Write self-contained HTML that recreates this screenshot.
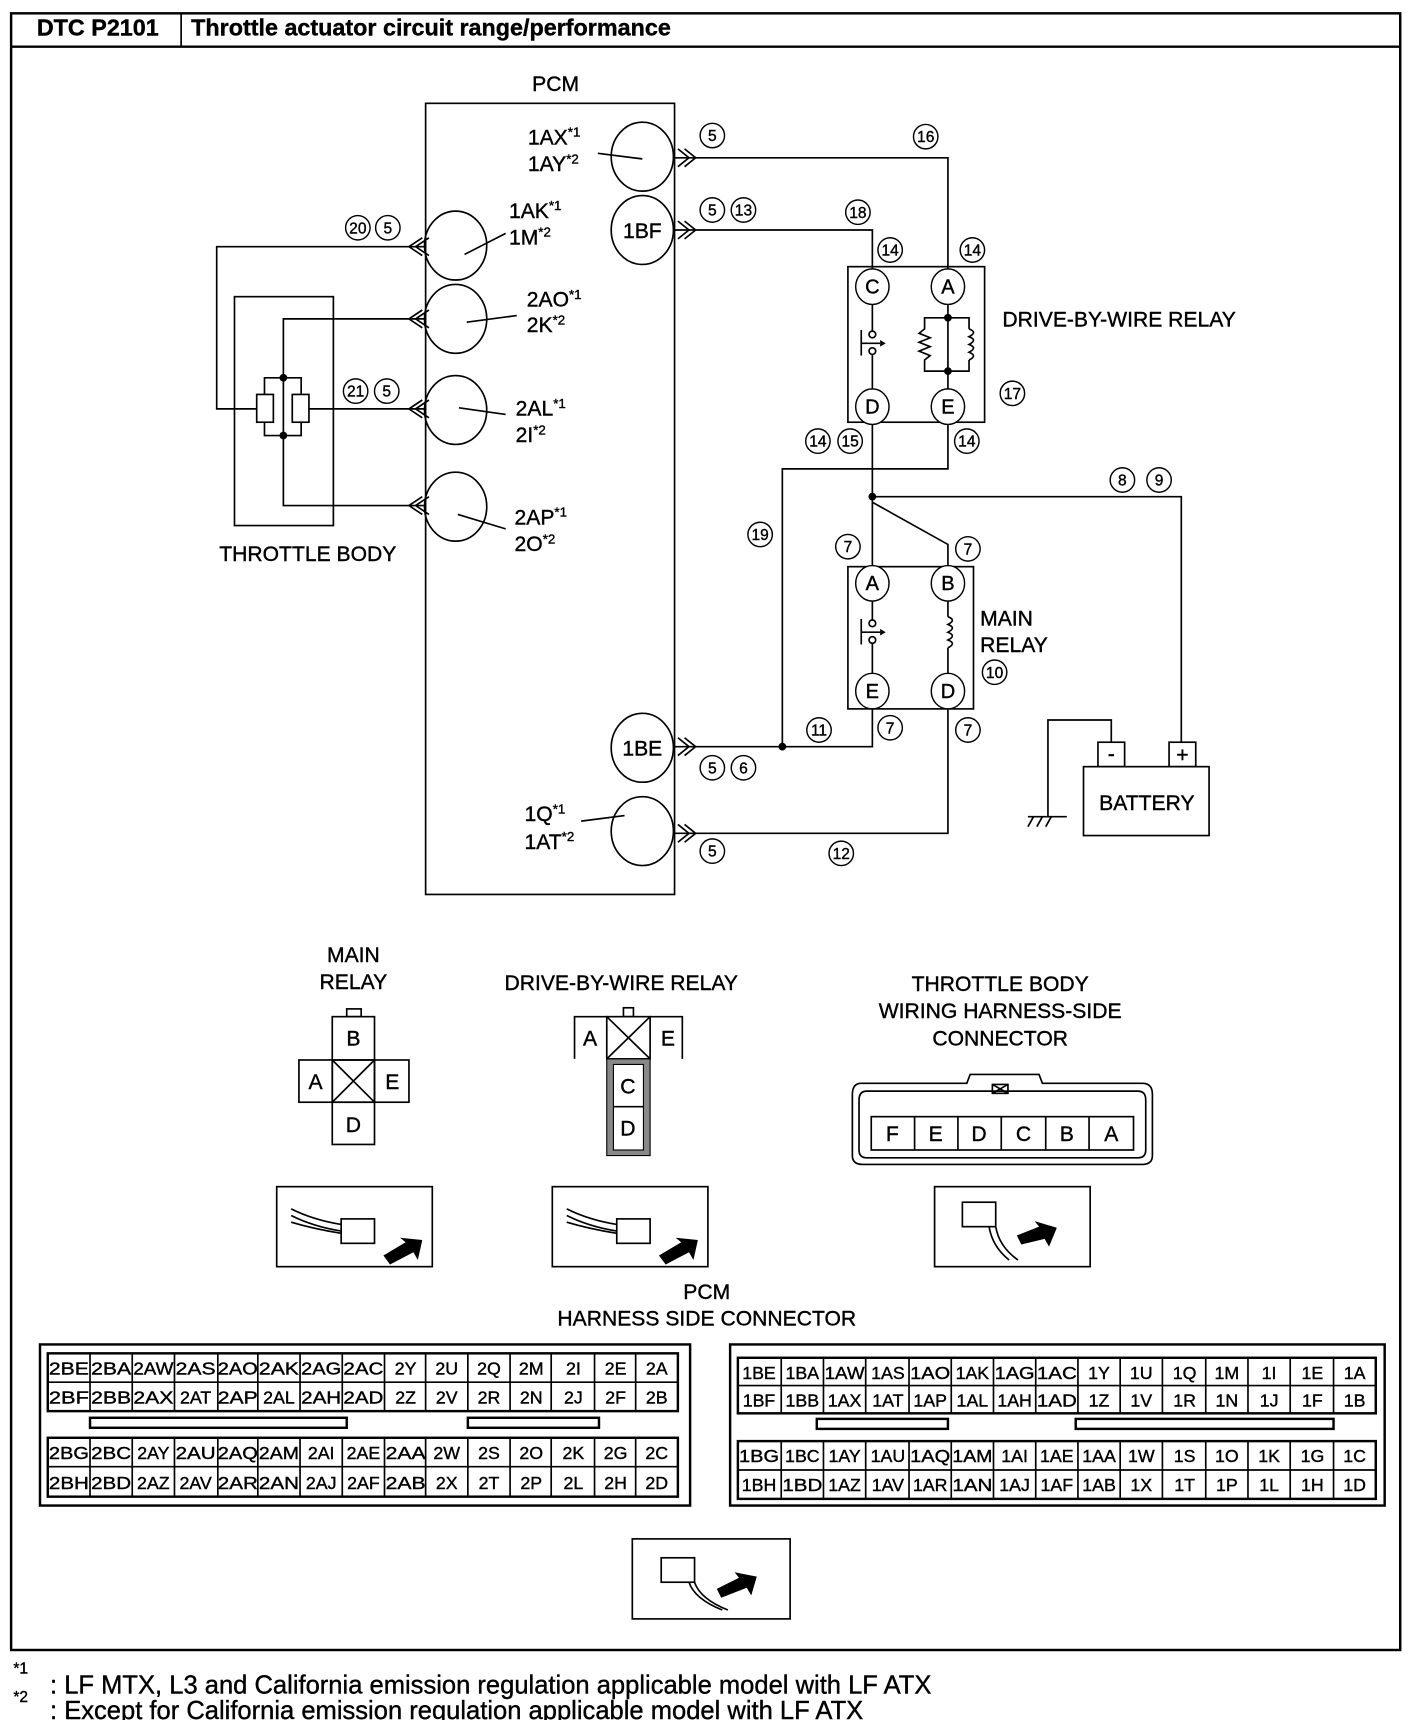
<!DOCTYPE html>
<html><head><meta charset="utf-8"><style>
html,body{margin:0;padding:0;background:#fff}
svg{display:block}
text{font-family:"Liberation Sans",Arial,sans-serif;fill:#000;stroke:#000;stroke-width:0.35}
.l{fill:none;stroke:#000;stroke-width:1.5}
.t{fill:none;stroke:#000;stroke-width:2.2}
.c{fill:#fff;stroke:#000;stroke-width:1.3}
.n{font-size:14px;text-anchor:middle}
.lb{font-size:19px}
.m{text-anchor:middle}
.tb{font-size:16px;text-anchor:middle}
</style></head><body>
<svg width="1408" height="1720" viewBox="0 0 1267 1548" preserveAspectRatio="none" xmlns="http://www.w3.org/2000/svg">
<!-- frame -->
<rect x="10" y="12" width="1250" height="1473" class="t"/>
<line x1="10" y1="42" x2="1260" y2="42" class="t"/>
<line x1="163" y1="12" x2="163" y2="42" class="l"/>
<text x="88" y="32" font-size="21" font-weight="bold" class="m">DTC P2101</text>
<text x="172" y="32" font-size="21" font-weight="bold">Throttle actuator circuit range/performance</text>

<!-- PCM -->
<text x="500" y="82" class="lb m">PCM</text>
<rect x="383" y="93" width="224" height="712" class="l"/>
<g class="l">
<ellipse cx="578" cy="141" rx="28" ry="31"/>
<ellipse cx="578" cy="207" rx="28" ry="31"/>
<ellipse cx="410" cy="221" rx="28" ry="31"/>
<ellipse cx="410" cy="287" rx="28" ry="31"/>
<ellipse cx="410" cy="369" rx="28" ry="31"/>
<ellipse cx="410" cy="456" rx="28" ry="31"/>
<ellipse cx="578" cy="673" rx="28" ry="31"/>
<ellipse cx="578" cy="748" rx="28" ry="31"/>
</g>
<text x="578" y="214" class="lb m">1BF</text>
<text x="578" y="680" class="lb m">1BE</text>
<g class="lb">
<text x="475" y="130">1AX<tspan font-size="12" dy="-7">*1</tspan></text>
<text x="475" y="154">1AY<tspan font-size="12" dy="-7">*2</tspan></text>
<text x="458" y="196">1AK<tspan font-size="12" dy="-7">*1</tspan></text>
<text x="458" y="220">1M<tspan font-size="12" dy="-7">*2</tspan></text>
<text x="474" y="276">2AO<tspan font-size="12" dy="-7">*1</tspan></text>
<text x="474" y="299">2K<tspan font-size="12" dy="-7">*2</tspan></text>
<text x="464" y="374">2AL<tspan font-size="12" dy="-7">*1</tspan></text>
<text x="464" y="398">2I<tspan font-size="12" dy="-7">*2</tspan></text>
<text x="463" y="472">2AP<tspan font-size="12" dy="-7">*1</tspan></text>
<text x="463" y="496">2O<tspan font-size="12" dy="-7">*2</tspan></text>
<text x="472" y="739">1Q<tspan font-size="12" dy="-7">*1</tspan></text>
<text x="472" y="764">1AT<tspan font-size="12" dy="-7">*2</tspan></text>
</g>
<g class="l">
<line x1="538" y1="138" x2="578" y2="143"/>
<line x1="418" y1="229" x2="455" y2="210"/>
<line x1="420" y1="290" x2="465" y2="284"/>
<line x1="413" y1="367" x2="455" y2="373"/>
<line x1="412" y1="463" x2="455" y2="476"/>
<line x1="523" y1="739" x2="562" y2="734"/>
</g>

<!-- chevrons -->
<g class="l">
<polyline points="380,214 368,222 380,230"/><polyline points="386,214 374,222 386,230"/>
<polyline points="380,279 368,287 380,295"/><polyline points="386,279 374,287 386,295"/>
<polyline points="380,360 368,368 380,376"/><polyline points="386,360 374,368 386,376"/>
<polyline points="380,447 368,455 380,463"/><polyline points="386,447 374,455 386,463"/>
<polyline points="610,134 620,142 610,150"/><polyline points="616,134 626,142 616,150"/>
<polyline points="610,199 620,207 610,215"/><polyline points="616,199 626,207 616,215"/>
<polyline points="610,664 620,672 610,680"/><polyline points="616,664 626,672 616,680"/>
<polyline points="610,742 620,750 610,758"/><polyline points="616,742 626,750 616,758"/>
</g>

<!-- throttle body -->
<rect x="211" y="267" width="89" height="206" class="l"/>
<g class="l">
<polyline points="383,222 195,222 195,368 231,368"/>
<polyline points="383,287 255,287 255,392"/>
<polyline points="278,368 383,368"/>
<polyline points="255,392 255,455 383,455"/>
<polyline points="238,355 238,340 271,340 271,355"/>
<polyline points="238,380 238,392 271,392 271,380"/>
<rect x="231" y="355" width="15" height="25"/>
<rect x="263" y="355" width="15" height="25"/>
</g>
<circle cx="255" cy="340" r="3.5"/><circle cx="255" cy="392" r="3.5"/>
<text x="277" y="505" class="lb m">THROTTLE BODY</text>

<!-- circled numbers left -->
<g class="c"><circle cx="322" cy="205" r="11"/><circle cx="349" cy="205" r="11"/><circle cx="320" cy="352" r="11"/><circle cx="348" cy="352" r="11"/></g>
<g class="n"><text x="322" y="210">20</text><text x="349" y="210">5</text><text x="320" y="357">21</text><text x="348" y="357">5</text></g>

<!-- right wires -->
<g class="l">
<polyline points="607,142 853,142 853,243"/>
<polyline points="607,207 785,207 785,243"/>
<polyline points="785,382 785,510"/>
<polyline points="853,382 853,422 704,422 704,672"/>
<polyline points="785,447 1063,447 1063,668"/>
<polyline points="785,452 853,490 853,510"/>
<polyline points="785,638 785,672 607,672"/>
<polyline points="853,638 853,750 607,750"/>
</g>
<circle cx="785" cy="447" r="3.5"/><circle cx="704" cy="672" r="3.5"/>

<!-- DBW relay -->
<rect x="763" y="240" width="123" height="140" class="l"/>
<g class="c">
<ellipse cx="785" cy="258" rx="15" ry="16"/><ellipse cx="853" cy="258" rx="15" ry="16"/>
<ellipse cx="785" cy="366" rx="15" ry="16"/><ellipse cx="853" cy="366" rx="15" ry="16"/>
</g>
<g class="m" font-size="18"><text x="785" y="264">C</text><text x="853" y="264">A</text><text x="785" y="372">D</text><text x="853" y="372">E</text></g>
<g class="l">
<line x1="785" y1="274" x2="785" y2="298"/><circle cx="785" cy="301" r="3"/><circle cx="785" cy="316" r="3"/><line x1="785" y1="319" x2="785" y2="350"/>
<line x1="775" y1="297" x2="775" y2="320"/><line x1="775" y1="309" x2="792" y2="309"/>
<line x1="853" y1="274" x2="853" y2="350"/>
<polyline points="853,286 832,286 832,296 827,300 837,304 827,308 837,312 827,316 837,320 832,324 832,334 853,334"/>
<polyline points="853,286 872,286 872,296"/>
<path d="M872,296 q8,3 0,7 q8,3 0,7 q8,3 0,7 q8,3 0,7" />
<polyline points="872,324 872,334 853,334"/>
</g>
<polygon points="792,306 797,309 792,312"/>
<circle cx="853" cy="286" r="3.5"/><circle cx="853" cy="334" r="3.5"/>
<text x="902" y="294" class="lb">DRIVE-BY-WIRE RELAY</text>

<!-- Main relay -->
<rect x="763" y="510" width="113" height="128" class="l"/>
<g class="c">
<ellipse cx="785" cy="525" rx="15" ry="16"/><ellipse cx="853" cy="525" rx="15" ry="16"/>
<ellipse cx="785" cy="622" rx="15" ry="16"/><ellipse cx="853" cy="622" rx="15" ry="16"/>
</g>
<g class="m" font-size="18"><text x="785" y="531">A</text><text x="853" y="531">B</text><text x="785" y="628">E</text><text x="853" y="628">D</text></g>
<g class="l">
<line x1="785" y1="541" x2="785" y2="558"/><circle cx="785" cy="561" r="3"/><circle cx="785" cy="576" r="3"/><line x1="785" y1="579" x2="785" y2="606"/>
<line x1="775" y1="557" x2="775" y2="580"/><line x1="775" y1="569" x2="792" y2="569"/>
<line x1="853" y1="541" x2="853" y2="555"/>
<path d="M853,555 q8,3 0,7 q8,3 0,7 q8,3 0,7 q8,3 0,7"/>
<line x1="853" y1="583" x2="853" y2="606"/>
</g>
<polygon points="792,566 797,569 792,572"/>
<text x="882" y="563" class="lb">MAIN</text>
<text x="882" y="587" class="lb">RELAY</text>

<!-- battery -->
<g class="l">
<rect x="975" y="690" width="113" height="62"/>
<rect x="988" y="668" width="24" height="22"/>
<rect x="1052" y="668" width="24" height="22"/>
<polyline points="1000,668 1000,648 943,648 943,735"/>
<line x1="925" y1="735" x2="960" y2="735"/>
<line x1="930" y1="735" x2="925" y2="744"/><line x1="938" y1="735" x2="933" y2="744"/><line x1="946" y1="735" x2="941" y2="744"/>
</g>
<text x="1000" y="685" class="lb m">-</text>
<text x="1064" y="686" class="lb m">+</text>
<text x="1032" y="729" class="lb m">BATTERY</text>

<!-- circled numbers right -->
<g class="c">
<circle cx="641" cy="122" r="11"/><circle cx="833" cy="123" r="11"/>
<circle cx="641" cy="189" r="11"/><circle cx="669" cy="189" r="11"/><circle cx="772" cy="191" r="11"/>
<circle cx="801" cy="225" r="11"/><circle cx="875" cy="225" r="11"/>
<circle cx="911" cy="354" r="11"/>
<circle cx="736" cy="397" r="11"/><circle cx="765" cy="397" r="11"/><circle cx="870" cy="397" r="11"/>
<circle cx="1010" cy="432" r="11"/><circle cx="1043" cy="432" r="11"/>
<circle cx="684" cy="481" r="11"/><circle cx="763" cy="492" r="11"/><circle cx="871" cy="494" r="11"/>
<circle cx="895" cy="605" r="11"/>
<circle cx="737" cy="657" r="11"/><circle cx="801" cy="655" r="11"/><circle cx="871" cy="657" r="11"/>
<circle cx="641" cy="691" r="11"/><circle cx="669" cy="691" r="11"/>
<circle cx="641" cy="766" r="11"/><circle cx="757" cy="768" r="11"/>
</g>
<g class="n">
<text x="641" y="127">5</text><text x="833" y="128">16</text>
<text x="641" y="194">5</text><text x="669" y="194">13</text><text x="772" y="196">18</text>
<text x="801" y="230">14</text><text x="875" y="230">14</text>
<text x="911" y="359">17</text>
<text x="736" y="402">14</text><text x="765" y="402">15</text><text x="870" y="402">14</text>
<text x="1010" y="437">8</text><text x="1043" y="437">9</text>
<text x="684" y="486">19</text><text x="763" y="497">7</text><text x="871" y="499">7</text>
<text x="895" y="610">10</text>
<text x="737" y="662">11</text><text x="801" y="660">7</text><text x="871" y="662">7</text>
<text x="641" y="696">5</text><text x="669" y="696">6</text>
<text x="641" y="771">5</text><text x="757" y="773">12</text>
</g>

<!-- lower connectors -->
<text x="318" y="866" class="lb m">MAIN</text>
<text x="318" y="890" class="lb m">RELAY</text>
<g class="l">
<rect x="312" y="908" width="13" height="7"/>
<rect x="299" y="915" width="38" height="39"/>
<rect x="269" y="954" width="30" height="38"/>
<rect x="299" y="954" width="38" height="38"/>
<rect x="337" y="954" width="31" height="38"/>
<rect x="299" y="992" width="38" height="38"/>
<line x1="299" y1="954" x2="337" y2="992"/><line x1="337" y1="954" x2="299" y2="992"/>
</g>
<g class="lb m"><text x="318" y="941">B</text><text x="284" y="980">A</text><text x="353" y="980">E</text><text x="318" y="1019">D</text></g>

<text x="559" y="891" class="lb m">DRIVE-BY-WIRE RELAY</text>
<g class="l">
<rect x="561" y="907" width="9" height="8"/>
<polyline points="517,953 517,915 546,915"/>
<rect x="546" y="915" width="39" height="38"/>
<polyline points="585,915 614,915 614,953"/>
<line x1="546" y1="915" x2="585" y2="953"/><line x1="585" y1="915" x2="546" y2="953"/>
</g>
<rect x="546" y="953" width="39" height="87" fill="#888" stroke="#000"/>
<rect x="552" y="958" width="27" height="77" fill="#fff" stroke="#000"/>
<line x1="552" y1="996" x2="579" y2="996" class="l"/>
<g class="lb m"><text x="531" y="941">A</text><text x="601" y="941">E</text><text x="565" y="984">C</text><text x="565" y="1022">D</text></g>

<text x="900" y="892" class="lb m">THROTTLE BODY</text>
<text x="900" y="916" class="lb m">WIRING HARNESS-SIDE</text>
<text x="900" y="941" class="lb m">CONNECTOR</text>
<g class="l">
<path d="M775,975 L870,975 L873,967 L935,967 L938,975 L1028,975 Q1037,975 1037,985 L1037,1040 Q1037,1048 1028,1048 L776,1048 Q767,1048 767,1040 L767,985 Q767,975 775,975 Z"/>
<path d="M780,982 L1024,982 Q1031,982 1031,990 L1031,1035 Q1031,1042 1024,1042 L780,1042 Q773,1042 773,1035 L773,990 Q773,982 780,982 Z"/>
<rect x="893" y="976" width="14" height="8"/>
<line x1="893" y1="976" x2="907" y2="984"/><line x1="907" y1="976" x2="893" y2="984"/>
<rect x="784" y="1005" width="236" height="30"/>
<line x1="823" y1="1005" x2="823" y2="1035"/><line x1="862" y1="1005" x2="862" y2="1035"/><line x1="901" y1="1005" x2="901" y2="1035"/><line x1="941" y1="1005" x2="941" y2="1035"/><line x1="980" y1="1005" x2="980" y2="1035"/>
</g>
<g class="lb m"><text x="803" y="1027">F</text><text x="842" y="1027">E</text><text x="881" y="1027">D</text><text x="921" y="1027">C</text><text x="960" y="1027">B</text><text x="1000" y="1027">A</text></g>

<!-- picture boxes -->
<g class="l">
<rect x="249" y="1068" width="140" height="72"/>
<rect x="497" y="1068" width="140" height="72"/>
<rect x="841" y="1068" width="140" height="72"/>
<rect x="569" y="1385" width="142" height="72"/>
<path d="M262,1088 q20,10 45,14 M262,1094 q20,10 45,14 M262,1100 q20,6 45,10"/>
<rect x="307" y="1097" width="30" height="22"/>
<path d="M510,1088 q20,10 45,14 M510,1094 q20,10 45,14 M510,1100 q20,6 45,10"/>
<rect x="555" y="1097" width="30" height="22"/>
<rect x="866" y="1082" width="30" height="22"/>
<path d="M896,1104 q3,18 20,30 M890,1104 q3,18 18,30"/>
<rect x="595" y="1402" width="30" height="22"/>
<path d="M625,1424 q5,15 30,25 M620,1424 q5,15 30,25"/>
</g>
<polygon points="345,1130 365,1118 360,1114 380,1116 376,1134 372,1127 351,1138"/>
<polygon points="593,1130 613,1118 608,1114 628,1116 624,1134 620,1127 599,1138"/>
<polygon points="915,1112 935,1104 931,1099 951,1105 944,1122 940,1115 919,1120"/>
<polygon points="645,1430 665,1420 661,1415 681,1419 676,1436 672,1429 649,1438"/>

<text x="636" y="1169" class="lb m">PCM</text>
<text x="636" y="1193" class="lb m">HARNESS SIDE CONNECTOR</text>

<!-- left table -->
<g class="t">
<rect x="36" y="1210" width="585" height="145"/>
<rect x="43" y="1218" width="567" height="52"/>
<rect x="43" y="1294" width="567" height="53"/>
<rect x="81" y="1276" width="231" height="9"/>
<rect x="421" y="1276" width="118" height="9"/>
</g>
<g class="l">
<line x1="43" y1="1244" x2="610" y2="1244"/><line x1="43" y1="1320" x2="610" y2="1320"/>
<path d="M81,1218V1270M119,1218V1270M157,1218V1270M196,1218V1270M232,1218V1270M270,1218V1270M308,1218V1270M346,1218V1270M383,1218V1270M421,1218V1270M459,1218V1270M496,1218V1270M535,1218V1270M572,1218V1270"/>
<path d="M81,1294V1347M119,1294V1347M157,1294V1347M196,1294V1347M232,1294V1347M270,1294V1347M308,1294V1347M346,1294V1347M383,1294V1347M421,1294V1347M459,1294V1347M496,1294V1347M535,1294V1347M572,1294V1347"/>
</g>
<g class="tb">
<text x="62" y="1237" textLength="36" lengthAdjust="spacingAndGlyphs">2BE</text><text x="100" y="1237" textLength="36" lengthAdjust="spacingAndGlyphs">2BA</text><text x="138" y="1237" textLength="36" lengthAdjust="spacingAndGlyphs">2AW</text><text x="176" y="1237" textLength="36" lengthAdjust="spacingAndGlyphs">2AS</text><text x="214" y="1237" textLength="36" lengthAdjust="spacingAndGlyphs">2AO</text><text x="251" y="1237" textLength="36" lengthAdjust="spacingAndGlyphs">2AK</text><text x="289" y="1237" textLength="36" lengthAdjust="spacingAndGlyphs">2AG</text><text x="327" y="1237" textLength="36" lengthAdjust="spacingAndGlyphs">2AC</text><text x="365" y="1237">2Y</text><text x="402" y="1237">2U</text><text x="440" y="1237">2Q</text><text x="478" y="1237">2M</text><text x="516" y="1237">2I</text><text x="554" y="1237">2E</text><text x="591" y="1237">2A</text>
<text x="62" y="1263" textLength="36" lengthAdjust="spacingAndGlyphs">2BF</text><text x="100" y="1263" textLength="36" lengthAdjust="spacingAndGlyphs">2BB</text><text x="138" y="1263" textLength="36" lengthAdjust="spacingAndGlyphs">2AX</text><text x="176" y="1263">2AT</text><text x="214" y="1263" textLength="36" lengthAdjust="spacingAndGlyphs">2AP</text><text x="251" y="1263">2AL</text><text x="289" y="1263" textLength="36" lengthAdjust="spacingAndGlyphs">2AH</text><text x="327" y="1263" textLength="36" lengthAdjust="spacingAndGlyphs">2AD</text><text x="365" y="1263">2Z</text><text x="402" y="1263">2V</text><text x="440" y="1263">2R</text><text x="478" y="1263">2N</text><text x="516" y="1263">2J</text><text x="554" y="1263">2F</text><text x="591" y="1263">2B</text>
<text x="62" y="1313" textLength="36" lengthAdjust="spacingAndGlyphs">2BG</text><text x="100" y="1313" textLength="36" lengthAdjust="spacingAndGlyphs">2BC</text><text x="138" y="1313">2AY</text><text x="176" y="1313" textLength="36" lengthAdjust="spacingAndGlyphs">2AU</text><text x="214" y="1313" textLength="36" lengthAdjust="spacingAndGlyphs">2AQ</text><text x="251" y="1313" textLength="36" lengthAdjust="spacingAndGlyphs">2AM</text><text x="289" y="1313">2AI</text><text x="327" y="1313">2AE</text><text x="365" y="1313" textLength="36" lengthAdjust="spacingAndGlyphs">2AA</text><text x="402" y="1313">2W</text><text x="440" y="1313">2S</text><text x="478" y="1313">2O</text><text x="516" y="1313">2K</text><text x="554" y="1313">2G</text><text x="591" y="1313">2C</text>
<text x="62" y="1340" textLength="36" lengthAdjust="spacingAndGlyphs">2BH</text><text x="100" y="1340" textLength="36" lengthAdjust="spacingAndGlyphs">2BD</text><text x="138" y="1340">2AZ</text><text x="176" y="1340">2AV</text><text x="214" y="1340" textLength="36" lengthAdjust="spacingAndGlyphs">2AR</text><text x="251" y="1340" textLength="36" lengthAdjust="spacingAndGlyphs">2AN</text><text x="289" y="1340">2AJ</text><text x="327" y="1340">2AF</text><text x="365" y="1340" textLength="36" lengthAdjust="spacingAndGlyphs">2AB</text><text x="402" y="1340">2X</text><text x="440" y="1340">2T</text><text x="478" y="1340">2P</text><text x="516" y="1340">2L</text><text x="554" y="1340">2H</text><text x="591" y="1340">2D</text>
</g>

<!-- right table -->
<g class="t">
<rect x="657" y="1210" width="589" height="145"/>
<rect x="664" y="1222" width="574" height="50"/>
<rect x="664" y="1297" width="574" height="52"/>
<rect x="735" y="1277" width="118" height="9"/>
<rect x="968" y="1277" width="232" height="9"/>
</g>
<g class="l">
<line x1="664" y1="1247" x2="1238" y2="1247"/><line x1="664" y1="1323" x2="1238" y2="1323"/>
<path d="M703,1222V1272M741,1222V1272M779,1222V1272M818,1222V1272M856,1222V1272M894,1222V1272M932,1222V1272M970,1222V1272M1008,1222V1272M1046,1222V1272M1085,1222V1272M1123,1222V1272M1161,1222V1272M1200,1222V1272"/>
<path d="M703,1297V1349M741,1297V1349M779,1297V1349M818,1297V1349M856,1297V1349M894,1297V1349M932,1297V1349M970,1297V1349M1008,1297V1349M1046,1297V1349M1085,1297V1349M1123,1297V1349M1161,1297V1349M1200,1297V1349"/>
</g>
<g class="tb">
<text x="683" y="1241">1BE</text><text x="722" y="1241">1BA</text><text x="760" y="1241" textLength="36" lengthAdjust="spacingAndGlyphs">1AW</text><text x="799" y="1241">1AS</text><text x="837" y="1241" textLength="36" lengthAdjust="spacingAndGlyphs">1AO</text><text x="875" y="1241">1AK</text><text x="913" y="1241" textLength="36" lengthAdjust="spacingAndGlyphs">1AG</text><text x="951" y="1241" textLength="36" lengthAdjust="spacingAndGlyphs">1AC</text><text x="989" y="1241">1Y</text><text x="1027" y="1241">1U</text><text x="1066" y="1241">1Q</text><text x="1104" y="1241">1M</text><text x="1142" y="1241">1I</text><text x="1181" y="1241">1E</text><text x="1219" y="1241">1A</text>
<text x="683" y="1266">1BF</text><text x="722" y="1266">1BB</text><text x="760" y="1266">1AX</text><text x="799" y="1266">1AT</text><text x="837" y="1266">1AP</text><text x="875" y="1266">1AL</text><text x="913" y="1266">1AH</text><text x="951" y="1266" textLength="36" lengthAdjust="spacingAndGlyphs">1AD</text><text x="989" y="1266">1Z</text><text x="1027" y="1266">1V</text><text x="1066" y="1266">1R</text><text x="1104" y="1266">1N</text><text x="1142" y="1266">1J</text><text x="1181" y="1266">1F</text><text x="1219" y="1266">1B</text>
<text x="683" y="1316" textLength="36" lengthAdjust="spacingAndGlyphs">1BG</text><text x="722" y="1316">1BC</text><text x="760" y="1316">1AY</text><text x="799" y="1316">1AU</text><text x="837" y="1316" textLength="36" lengthAdjust="spacingAndGlyphs">1AQ</text><text x="875" y="1316" textLength="36" lengthAdjust="spacingAndGlyphs">1AM</text><text x="913" y="1316">1AI</text><text x="951" y="1316">1AE</text><text x="989" y="1316">1AA</text><text x="1027" y="1316">1W</text><text x="1066" y="1316">1S</text><text x="1104" y="1316">1O</text><text x="1142" y="1316">1K</text><text x="1181" y="1316">1G</text><text x="1219" y="1316">1C</text>
<text x="683" y="1342">1BH</text><text x="722" y="1342" textLength="36" lengthAdjust="spacingAndGlyphs">1BD</text><text x="760" y="1342">1AZ</text><text x="799" y="1342">1AV</text><text x="837" y="1342">1AR</text><text x="875" y="1342" textLength="36" lengthAdjust="spacingAndGlyphs">1AN</text><text x="913" y="1342">1AJ</text><text x="951" y="1342">1AF</text><text x="989" y="1342">1AB</text><text x="1027" y="1342">1X</text><text x="1066" y="1342">1T</text><text x="1104" y="1342">1P</text><text x="1142" y="1342">1L</text><text x="1181" y="1342">1H</text><text x="1219" y="1342">1D</text>
</g>

<!-- footnotes -->
<text x="12" y="1506" font-size="14">*1</text>
<text x="45" y="1524" font-size="23">: LF MTX, L3 and California emission regulation applicable model with LF ATX</text>
<text x="12" y="1532" font-size="14">*2</text>
<text x="45" y="1547" font-size="23">: Except for California emission regulation applicable model with LF ATX</text>
</svg>
</body></html>
